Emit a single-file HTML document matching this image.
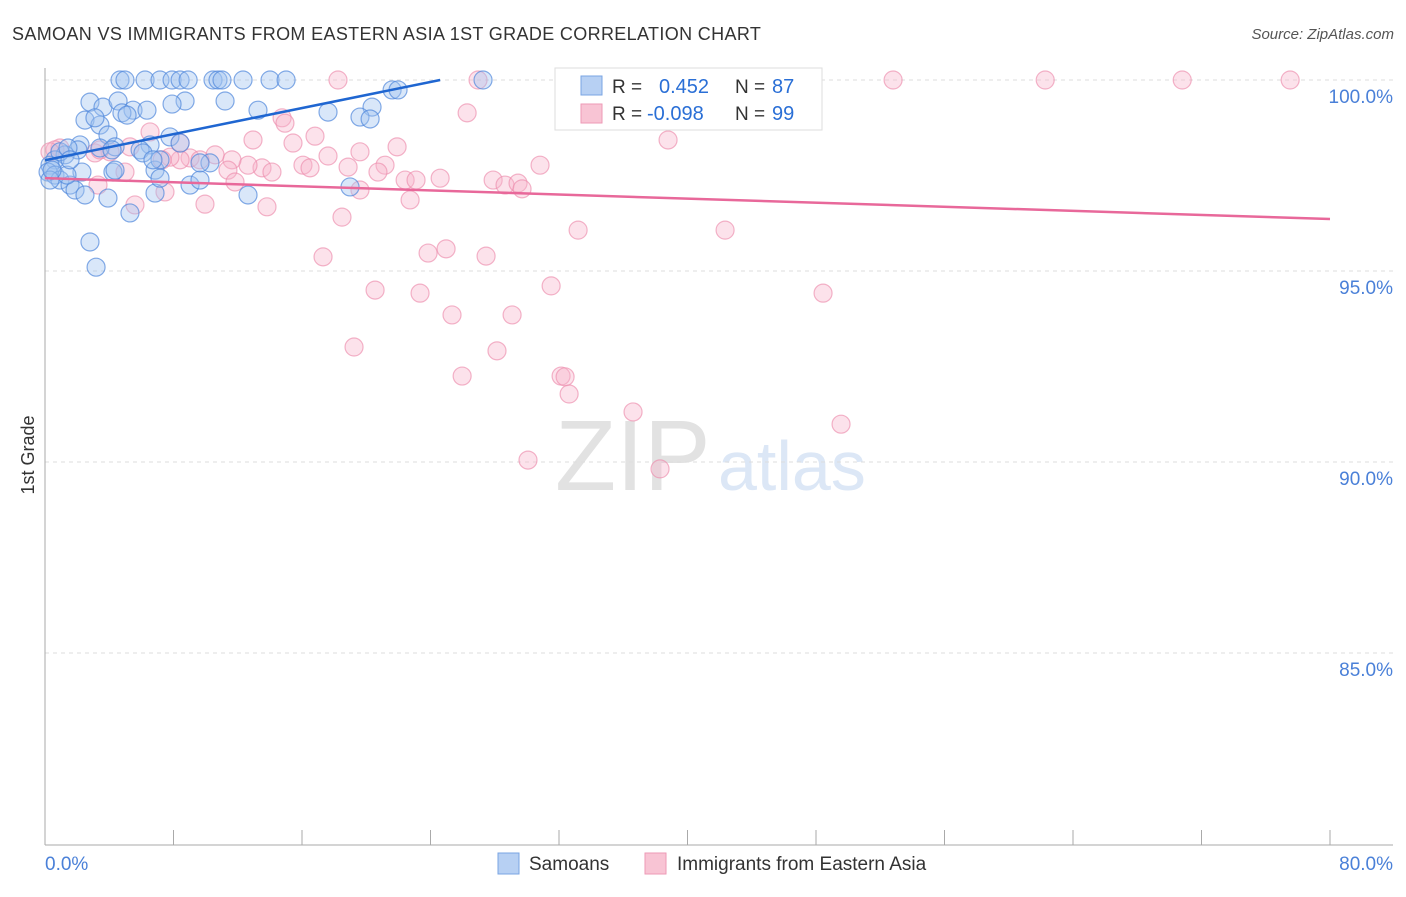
<!DOCTYPE html>
<html><head><meta charset="utf-8"><style>
body{margin:0;background:#fff;font-family:"Liberation Sans",sans-serif;}
svg text{font-family:"Liberation Sans",sans-serif;}
</style></head><body>
<svg id="chart" width="1406" height="892">
<text x="12" y="40" font-size="18" fill="#333" letter-spacing="0.35">SAMOAN VS IMMIGRANTS FROM EASTERN ASIA 1ST GRADE CORRELATION CHART</text>
<text x="1394" y="39" font-size="15" fill="#555" font-style="italic" text-anchor="end">Source: ZipAtlas.com</text>
<text x="34" y="455" font-size="18" fill="#333" transform="rotate(-90 34 455)" text-anchor="middle">1st Grade</text>
<text x="555" y="490" font-size="100" fill="#e2e2e2" font-family="Liberation Serif">ZIP</text>
<text x="718" y="490" font-size="70" fill="#dce7f6">atlas</text>
<g id="grid"></g><g id="axes"></g><g id="pts"></g><g id="lines"></g>
<g>
<rect x="555" y="68" width="267" height="62" fill="#fff" stroke="#ddd"/>
<rect x="581" y="76" width="21" height="19" fill="#b7d0f3" stroke="#7aa4e3"/>
<rect x="581" y="104" width="21" height="19" fill="#f8c4d4" stroke="#ee9ab6"/>
<text x="612" y="93" font-size="19" fill="#333">R =</text>
<text x="659" y="93" font-size="20" fill="#2a6fd6">0.452</text>
<text x="735" y="93" font-size="19" fill="#333">N =</text>
<text x="772" y="93" font-size="20" fill="#2a6fd6">87</text>
<text x="612" y="120" font-size="19" fill="#333">R =</text>
<text x="647" y="120" font-size="20" fill="#2a6fd6">-0.098</text>
<text x="735" y="120" font-size="19" fill="#333">N =</text>
<text x="772" y="120" font-size="20" fill="#2a6fd6">99</text>
</g>
<g>
<rect x="498" y="853" width="21" height="21" fill="#b7d0f3" stroke="#7aa4e3"/>
<text x="529" y="870" font-size="19" fill="#333">Samoans</text>
<rect x="645" y="853" width="21" height="21" fill="#f8c4d4" stroke="#ee9ab6"/>
<text x="677" y="870" font-size="19" fill="#333">Immigrants from Eastern Asia</text>
</g>
</svg>
<script>
const yTicks=[100,95,90,85];
const yTickLabels=["100.0%","95.0%","90.0%","85.0%"];
const xTickLabels=["0.0%","80.0%"];
const blueX=[4.67,4.98,6.23,7.16,7.91,8.41,8.91,10.46,10.77,11.02,12.33,14.01,15.01,27.27,2.80,3.61,4.55,8.72,11.21,7.91,5.48,6.35,4.79,5.11,13.26,17.62,20.36,19.61,20.24,21.61,21.98,2.49,3.42,3.11,3.92,7.78,6.54,8.41,4.36,5.92,2.18,2.05,1.25,0.62,0.31,0.19,0.62,0.93,1.56,1.87,2.49,3.92,5.29,6.85,9.03,9.65,12.64,18.99,6.85,7.16,4.23,4.36,10.27,7.16,6.10,2.80,3.18,2.30,1.37,0.31,0.44,0.93,1.43,3.42,4.17,1.56,6.72,9.65];
const blueY=[100,100,100,100,100,100,100,100,100,100,100,100,100,100,99.42,99.29,99.45,99.45,99.45,99.37,99.21,99.21,99.14,99.08,99.21,99.16,99.29,99.03,98.98,99.74,99.74,98.95,98.82,99.01,98.56,98.51,98.30,98.35,98.25,98.17,98.30,98.17,98.04,97.91,97.77,97.59,97.51,97.38,97.25,97.12,96.99,96.91,96.52,97.04,97.25,97.38,96.99,97.20,97.64,97.43,97.59,97.64,97.83,97.91,98.09,95.76,95.10,97.59,97.51,97.38,97.64,98.12,98.22,98.22,98.17,97.91,97.91,97.83];
const pinkX=[18.24,26.96,37.24,43.28,52.80,62.27,70.80,77.52,39.04,26.28,38.79,14.76,14.94,6.54,12.95,15.44,16.81,21.92,19.61,17.62,30.82,21.17,18.87,16.06,16.50,13.51,12.64,11.64,10.59,9.03,8.41,7.78,7.29,5.29,4.05,3.11,0.93,0.62,0.31,11.39,14.13,20.73,22.42,23.10,24.60,27.90,28.64,29.45,29.70,19.61,11.83,3.30,4.98,7.47,9.96,5.60,13.82,22.73,18.49,33.19,42.34,17.31,23.85,24.97,27.46,20.55,23.35,31.51,48.44,25.34,29.08,19.24,28.14,25.97,32.13,32.38,32.63,36.61,49.56,30.07,38.29,9.65,3.42,8.41];
const pinkY=[100,100,100,100,100,100,100,100,100,99.14,98.43,99.01,98.87,98.64,98.43,98.35,98.53,98.25,98.12,98.01,97.77,97.77,97.72,97.77,97.70,97.70,97.77,97.91,98.04,97.96,97.91,97.98,97.91,98.25,98.12,98.09,98.22,98.17,98.12,97.64,97.59,97.59,97.38,97.38,97.43,97.38,97.25,97.30,97.15,97.12,97.33,97.25,97.59,97.07,96.75,96.73,96.68,96.86,96.41,96.07,96.07,95.37,95.47,95.58,95.39,94.50,94.42,94.61,94.42,93.85,93.85,93.01,92.91,92.25,92.25,92.23,91.78,91.31,90.99,90.05,89.82,97.91,98.17,98.35];
const blueTrend=[[0,97.9],[24.6,100]];
const pinkTrend=[[0,97.43],[80,96.36]];
const NS="http://www.w3.org/2000/svg";
const X=v=>45+v*1285/80, Y=v=>80+(100-v)*38.2;
function mk(t,a,p){const e=document.createElementNS(NS,t);for(const k in a)e.setAttribute(k,a[k]);document.getElementById(p).appendChild(e);return e;}
yTicks.forEach((t,i)=>{
 const l=mk('line',{x1:45,x2:1393,y1:Y(t),y2:Y(t),stroke:'#ddd','stroke-dasharray':'4,4'},'grid');
 
 
 const tx=mk('text',{x:1393,y:Y(t)+23,'font-size':19,fill:'#4a80d8','text-anchor':'end'},'axes');
 tx.textContent=yTickLabels[i];
 
 
});
const ya=mk('line',{x1:45,x2:45,y1:68,y2:845,stroke:'#aaa'},'axes');


const xa=mk('line',{x1:45,x2:1393,y1:845,y2:845,stroke:'#aaa'},'axes');


for(let i=0;i<=10;i++){const t=mk('line',{x1:X(i*8),x2:X(i*8),y1:830,y2:845,stroke:'#aaa'},'axes');
 
 }
[[0,'start',45],[80,'end',1393]].forEach((d,i)=>{const t=mk('text',{x:d[2],y:870,'font-size':19,fill:'#4a80d8','text-anchor':d[1]},'axes');t.textContent=xTickLabels[i];
 
 });
pinkX.forEach((v,i)=>{const c=mk('circle',{cx:X(v),cy:Y(pinkY[i]),r:9,fill:'rgba(246,180,202,0.38)',stroke:'rgba(236,140,172,0.65)','stroke-width':1.2},'pts');
 
 });
blueX.forEach((v,i)=>{const c=mk('circle',{cx:X(v),cy:Y(blueY[i]),r:9,fill:'rgba(160,195,240,0.4)',stroke:'rgba(80,135,220,0.7)','stroke-width':1.2},'pts');
 
 });
const bl=mk('line',{x1:X(blueTrend[0][0]),y1:Y(blueTrend[0][1]),x2:X(blueTrend[1][0]),y2:Y(blueTrend[1][1]),stroke:'#1f66d1','stroke-width':2.5},'lines');


const pl=mk('line',{x1:X(pinkTrend[0][0]),y1:Y(pinkTrend[0][1]),x2:X(pinkTrend[1][0]),y2:Y(pinkTrend[1][1]),stroke:'#e8689a','stroke-width':2.5},'lines');


</script>
</body></html>
